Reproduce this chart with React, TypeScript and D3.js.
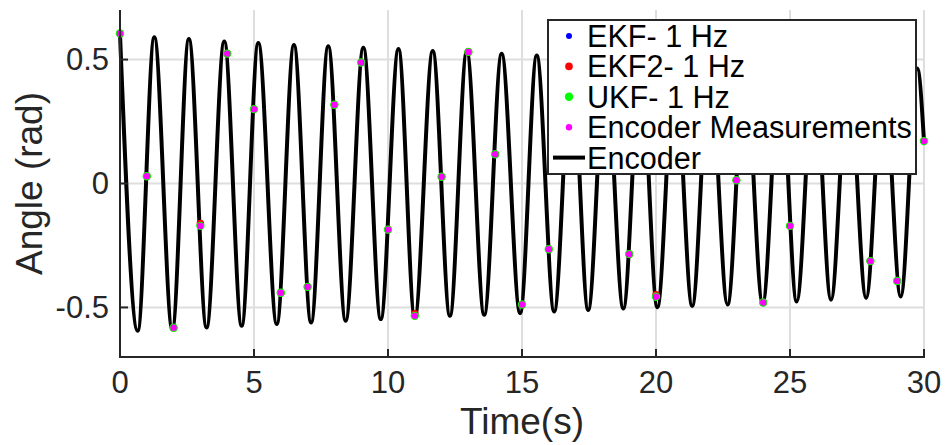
import React from 'react';
import * as d3 from 'd3';

// Encoder curve: extrema
const peakTimes = [0, 1.28, 2.57, 3.89, 5.16, 6.49, 7.77, 9.08, 10.39, 11.67, 12.94, 14.24, 15.55, 16.85, 18.12, 19.43, 20.7, 22.0, 23.32, 24.63, 25.9, 27.18, 28.49, 29.75];
const peakValues = [0.605, 0.59, 0.583, 0.573, 0.567, 0.559, 0.554, 0.548, 0.543, 0.535, 0.532, 0.523, 0.516, 0.51, 0.505, 0.5, 0.495, 0.49, 0.485, 0.48, 0.476, 0.472, 0.468, 0.464];
const troughTimes = [0.66, 1.95, 3.23, 4.54, 5.85, 7.13, 8.42, 9.73, 11.0, 12.31, 13.59, 14.93, 16.2, 17.47, 18.78, 20.05, 21.35, 22.67, 23.98, 25.25, 26.53, 27.84, 29.13];
const troughValues = [-0.594, -0.588, -0.581, -0.574, -0.567, -0.561, -0.554, -0.547, -0.54, -0.534, -0.53, -0.523, -0.516, -0.51, -0.504, -0.499, -0.494, -0.488, -0.483, -0.476, -0.469, -0.462, -0.456];
const endTimes = [30];
const endValues = [0.17];

// 1 Hz samples
const sampleTimes = [0, 1, 2, 3, 4, 5, 6, 7, 8, 9, 10, 11, 12, 13, 14, 15, 16, 17, 18, 19, 20, 21, 22, 23, 24, 25, 26, 27, 28, 29, 30];
const encoderMeas = [0.605, 0.029, -0.582, -0.171, 0.524, 0.30, -0.441, -0.417, 0.318, 0.488, -0.186, -0.534, 0.027, 0.531, 0.118, -0.488, -0.265, 0.45, 0.47, -0.285, -0.457, 0.06, 0.49, 0.013, -0.48, -0.171, 0.44, 0.36, -0.313, -0.393, 0.171];
const ekf = [0.605, 0.029, -0.582, -0.171, 0.524, 0.30, -0.441, -0.417, 0.318, 0.488, -0.186, -0.534, 0.027, 0.531, 0.118, -0.488, -0.265, 0.45, 0.47, -0.285, -0.457, 0.06, 0.49, 0.013, -0.48, -0.171, 0.44, 0.36, -0.313, -0.393, 0.171];
const ekf2 = [0.605, 0.029, -0.582, -0.162, 0.524, 0.30, -0.441, -0.417, 0.318, 0.488, -0.186, -0.526, 0.027, 0.531, 0.118, -0.488, -0.265, 0.45, 0.47, -0.285, -0.449, 0.06, 0.49, 0.013, -0.48, -0.171, 0.44, 0.36, -0.313, -0.393, 0.171];
const ukf = [0.605, 0.029, -0.582, -0.171, 0.524, 0.30, -0.441, -0.417, 0.318, 0.488, -0.186, -0.534, 0.027, 0.531, 0.118, -0.488, -0.265, 0.45, 0.47, -0.285, -0.457, 0.06, 0.49, 0.013, -0.48, -0.171, 0.44, 0.36, -0.313, -0.393, 0.171];

const xTicks = [0, 5, 10, 15, 20, 25, 30];
const xTickLabels = ['0', '5', '10', '15', '20', '25', '30'];
const yTicks = [-0.5, 0, 0.5];
const yTickLabels = ['-0.5', '0', '0.5'];
const legendLabels = ['EKF- 1 Hz', 'EKF2- 1 Hz', 'UKF- 1 Hz', 'Encoder Measurements', 'Encoder'];
const legendColors = ['#0000ff', '#ff0000', '#00ff00', '#ff00ff', '#000000'];

const W = 947;
const H = 445;
const AX = '#262626';
const GRID = '#dedede';
const FONT = "'Liberation Sans', Arial, Helvetica, sans-serif";

export default function App() {
  const x = d3.scaleLinear().domain([0, 30]).range([120, 924]);
  const y = d3.scaleLinear().domain([-0.7, 0.7]).range([357, 10]);

  const curvePts: [number, number][] = [];
  peakTimes.forEach((t, i) => curvePts.push([t, peakValues[i]]));
  troughTimes.forEach((t, i) => curvePts.push([t, troughValues[i]]));
  endTimes.forEach((t, i) => curvePts.push([t, endValues[i]]));
  curvePts.sort((a, b) => a[0] - b[0]);

  const line = d3
    .line<[number, number]>()
    .x((d) => x(d[0]))
    .y((d) => y(d[1]))
    .curve(d3.curveMonotoneX);

  const series = [
    { vals: ekf, color: '#0000ff', r: 3 },
    { vals: ekf2, color: '#ff0000', r: 3.8 },
    { vals: ukf, color: '#00ff00', r: 4.2 },
    { vals: encoderMeas, color: '#ff00ff', r: 3.2 },
  ];
  const drawOrder = [0, 1, 2, 3];

  const x0 = x(0);
  const x1 = x(30);
  const yTop = y(0.7);
  const yBot = y(-0.7);

  const legX = 548;
  const legY = 20;
  const legW = 368;
  const legH = 154;
  const rowY = (i: number) => 36 + i * 30.4;

  return (
    <svg width={W} height={H} style={{ position: 'absolute', left: 0, top: 0, background: '#fff' }}>
      <rect x={0} y={0} width={W} height={H} fill="#fff" />
      {xTicks.map((t) => (
        <line key={'gx' + t} x1={x(t)} x2={x(t)} y1={yTop} y2={yBot} stroke={GRID} strokeWidth={2} />
      ))}
      {yTicks.map((t) => (
        <line key={'gy' + t} x1={x0} x2={x1} y1={y(t)} y2={y(t)} stroke={GRID} strokeWidth={2} />
      ))}
      <path d={line(curvePts) || ''} fill="none" stroke="#000" strokeWidth={4} strokeLinejoin="round" />
      {drawOrder.map((si) => {
        const s = series[si];
        return (
          <g key={'s' + si}>
            {sampleTimes.map((t, i) => (
              <circle key={i} cx={x(t)} cy={y(s.vals[i])} r={s.r} fill={s.color} />
            ))}
          </g>
        );
      })}
      <line x1={x0} x2={x0} y1={yTop} y2={yBot + 1} stroke={AX} strokeWidth={2} />
      <line x1={x0 - 1} x2={x1 + 1} y1={yBot} y2={yBot} stroke={AX} strokeWidth={2} />
      {xTicks.map((t, i) => (
        <g key={'xt' + t}>
          <line x1={x(t)} x2={x(t)} y1={yBot} y2={yBot - 8} stroke={AX} strokeWidth={2} />
          <text x={x(t)} y={393} textAnchor="middle" fontFamily={FONT} fontSize={31} fill={AX}>
            {xTickLabels[i]}
          </text>
        </g>
      ))}
      {yTicks.map((t, i) => (
        <g key={'yt' + t}>
          <line x1={x0} x2={x0 + 8} y1={y(t)} y2={y(t)} stroke={AX} strokeWidth={2} />
          <text x={109} y={y(t)} dy="0.35em" textAnchor="end" fontFamily={FONT} fontSize={31} fill={AX}>
            {yTickLabels[i]}
          </text>
        </g>
      ))}
      <text x={(x0 + x1) / 2} y={434} textAnchor="middle" fontFamily={FONT} fontSize={37} fill={AX}>
        Time(s)
      </text>
      <text
        transform={`translate(42, ${(yTop + yBot) / 2}) rotate(-90)`}
        textAnchor="middle"
        fontFamily={FONT}
        fontSize={37}
        fill={AX}
      >
        Angle (rad)
      </text>
      <rect x={legX} y={legY} width={legW} height={legH} fill="#fff" stroke={AX} strokeWidth={2} />
      {legendLabels.map((lab, i) => (
        <g key={'lg' + i}>
          {i < 4 ? (
            <circle cx={569} cy={rowY(i)} r={series[i].r} fill={legendColors[i]} />
          ) : (
            <line x1={553} x2={585} y1={rowY(i)} y2={rowY(i)} stroke="#000" strokeWidth={4} />
          )}
          <text x={587} y={rowY(i)} dy="0.36em" fontFamily={FONT} fontSize={30.6} fill="#000">
            {lab}
          </text>
        </g>
      ))}
    </svg>
  );
}
